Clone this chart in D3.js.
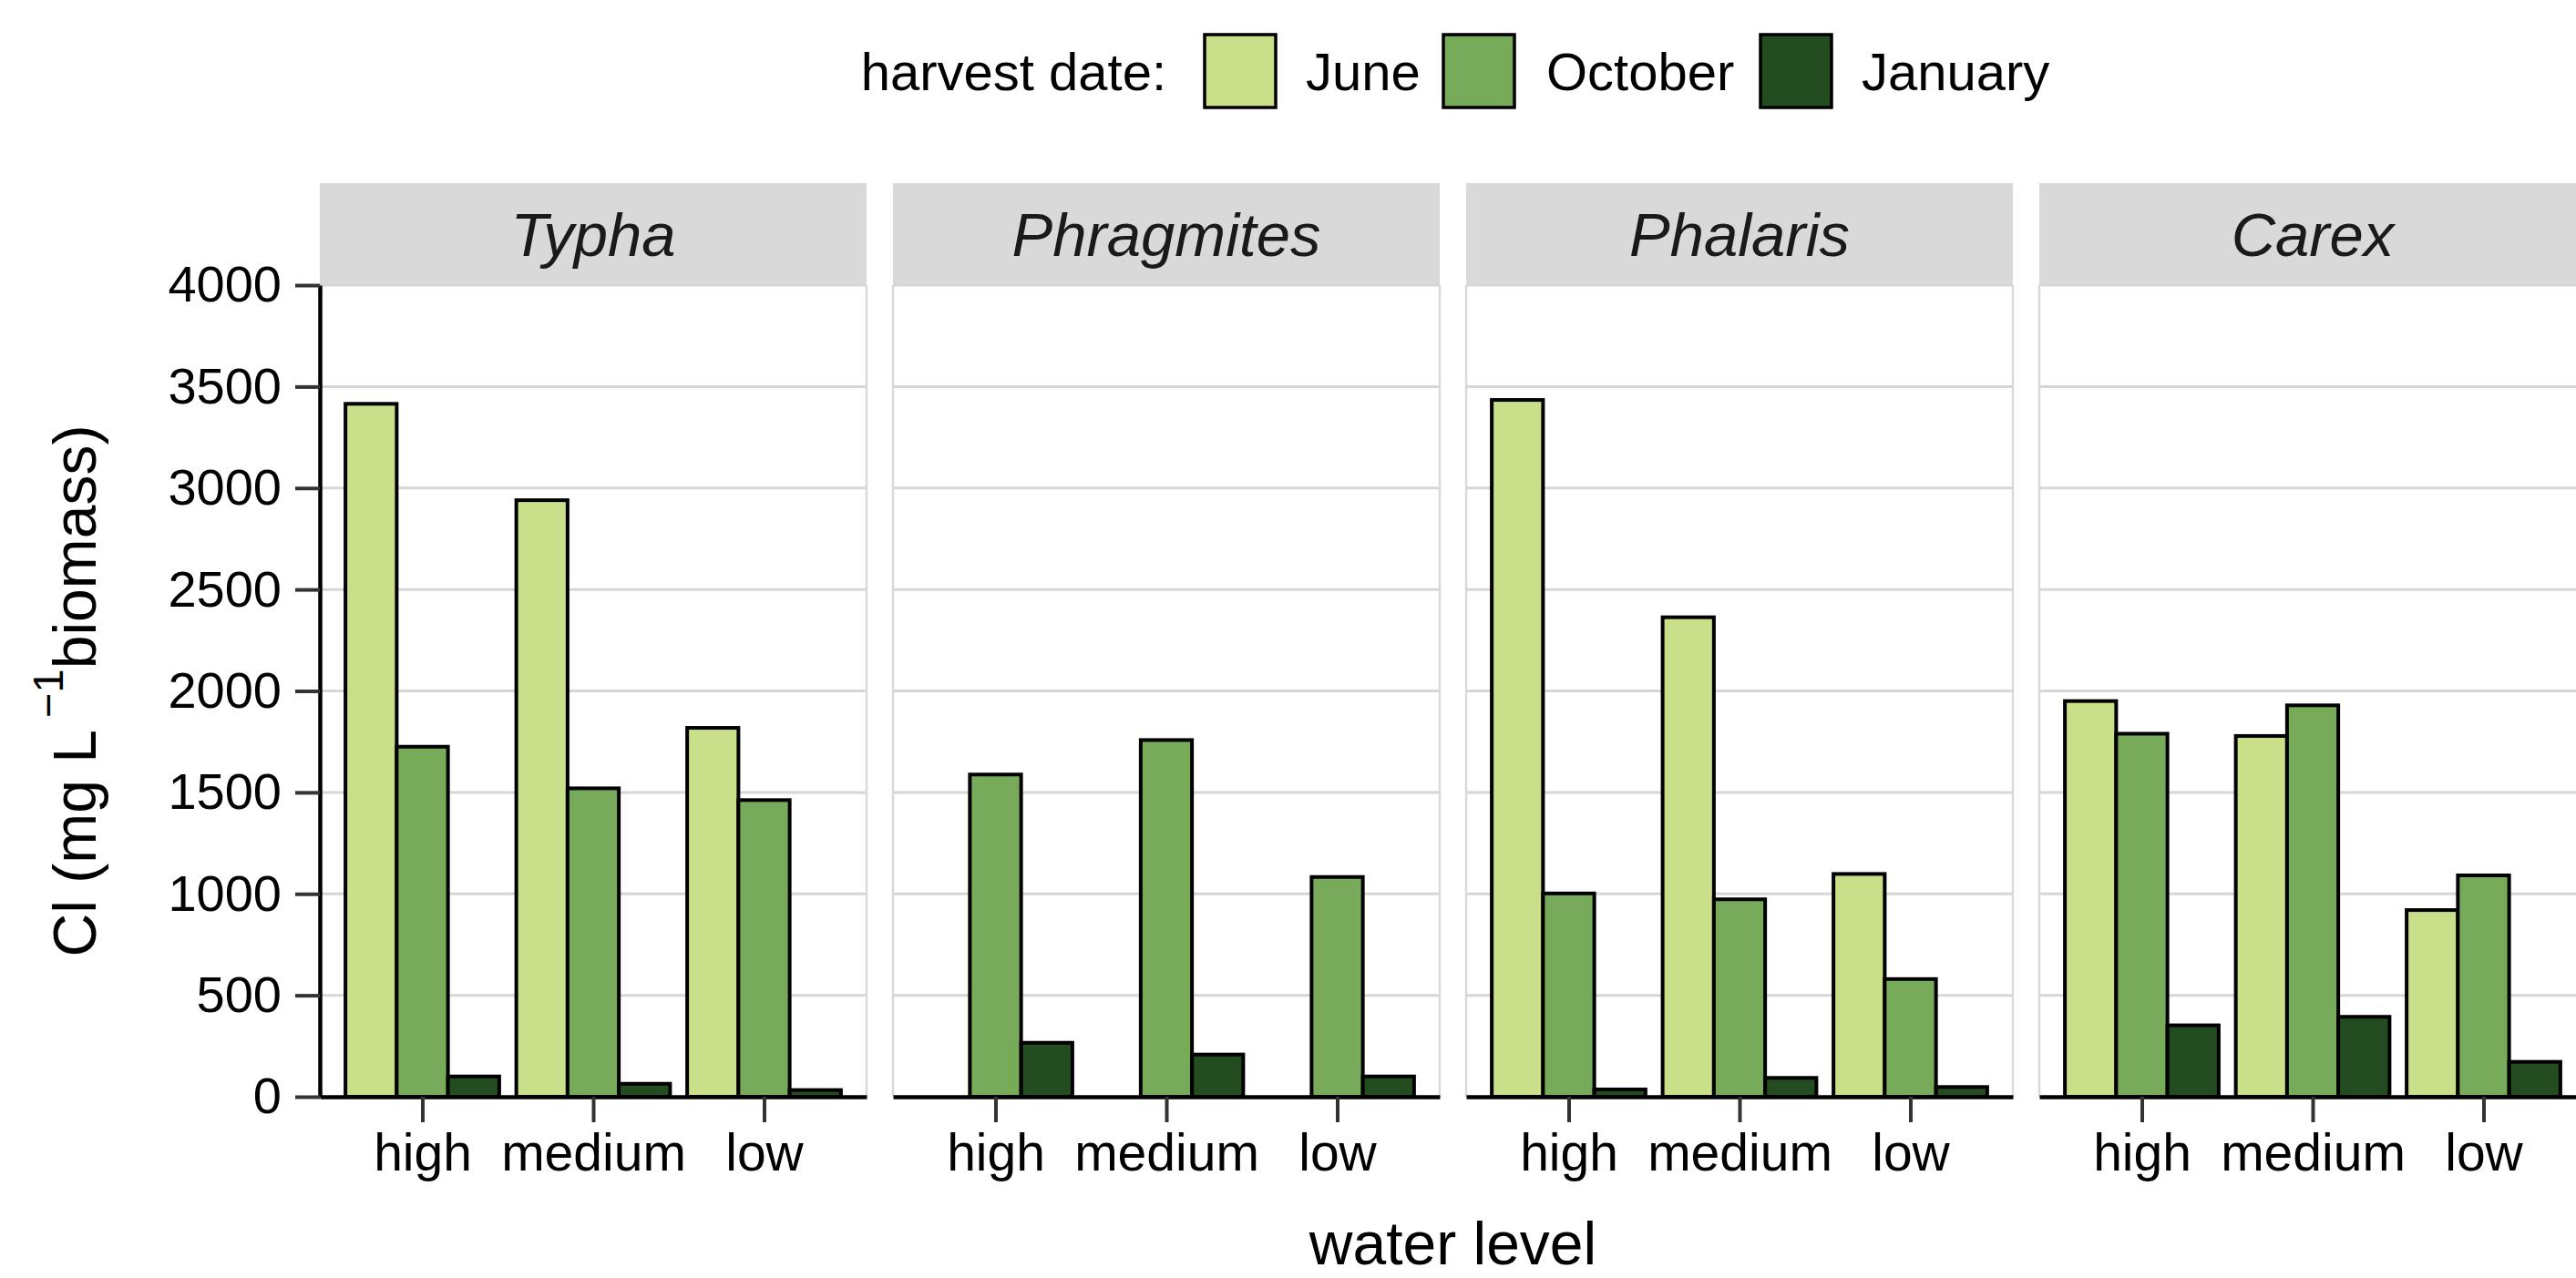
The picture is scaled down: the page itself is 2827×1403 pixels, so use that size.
<!DOCTYPE html>
<html>
<head>
    <style>
        body{
        margin: 0;
        background-color: white;
        }
        text{
          font-family: "Liberation Sans", Arial, Helvetica, sans-serif;
        }
    </style>
    <script src="https://d3js.org/d3.v7.min.js"></script>
</head>
<body>
    <script>
const w = 2827;
const h = 1403;

// data
const species = ["Typha", "Phragmites", "Phalaris", "Carex"];
const levels = ["high", "medium", "low"];
const dates = ["June", "October", "January"];
const colors = ["#c9df8a", "#77ab59", "#234d20"];
// one row per species, values for high, medium, low
const june = [[3415, 2940, 1818], [null, null, null], [3434, 2363, 1098], [1950, 1778, 920]];
const october = [[1725, 1520, 1462], [1588, 1758, 1083], [1002, 973, 580], [1789, 1929, 1091]];
const january = [[100, 64, 33], [266, 208, 100], [36, 93, 48], [352, 394, 172]];
const yTicks = [0, 500, 1000, 1500, 2000, 2500, 3000, 3500, 4000];

const plotTop = 313, plotBottom = 1204, plotLeft = 351;
const panelW = 600, gap = 29;

const svg = d3.select("body")
              .append("svg")
              .attr("width", w)
              .attr("height", h)

const yScale = d3.scaleLinear().domain([0, 4000]).range([plotBottom, plotTop]);
const panelScale = d3.scaleBand().domain(species)
    .range([plotLeft, plotLeft + 4 * panelW + 3 * gap])
    .paddingInner(gap / (panelW + gap)).paddingOuter(0);
const xScale = d3.scalePoint().domain(levels).range([0, panelW]).padding(0.6);
const step = xScale.step();
const dodge = d3.scaleBand().domain(dates).range([-0.45 * step, 0.45 * step]);
const color = d3.scaleOrdinal().domain(dates).range(colors);

const rows = [];
species.forEach((sp, i) => {
  levels.forEach((lv, j) => {
    rows.push({sp: sp, lv: lv, date: "June", v: june[i][j]});
    rows.push({sp: sp, lv: lv, date: "October", v: october[i][j]});
    rows.push({sp: sp, lv: lv, date: "January", v: january[i][j]});
  })
})

species.forEach((sp, i) => {
  const px = panelScale(sp);
  const g = svg.append("g").attr("transform", "translate(" + px + ",0)");

  // strip
  g.append("rect").attr("x", 0).attr("y", 201).attr("width", panelW).attr("height", plotTop - 201)
   .attr("fill", "#d9d9d9");
  g.append("text").attr("x", panelW / 2).attr("y", 281)
   .attr("text-anchor", "middle").attr("font-size", 67).attr("font-style", "italic")
   .attr("fill", "#1a1a1a").text(sp);

  // grid
  g.selectAll(".grid").data(yTicks.slice(1)).enter().append("line")
   .attr("x1", 0).attr("x2", panelW)
   .attr("y1", d => yScale(d)).attr("y2", d => yScale(d))
   .attr("stroke", "#d6d6d6").attr("stroke-width", 3);

  // panel border left and right
  g.append("line").attr("x1", 0).attr("x2", 0).attr("y1", plotTop).attr("y2", plotBottom)
   .attr("stroke", "#d9d9d9").attr("stroke-width", 2.5);
  g.append("line").attr("x1", panelW).attr("x2", panelW).attr("y1", plotTop).attr("y2", plotBottom)
   .attr("stroke", "#d9d9d9").attr("stroke-width", 2.5);

  // bars
  g.selectAll(".bar")
   .data(rows.filter(d => d.sp == sp && d.v != null))
   .enter().append("rect")
   .attr("x", d => xScale(d.lv) + dodge(d.date))
   .attr("y", d => yScale(d.v))
   .attr("width", dodge.bandwidth())
   .attr("height", d => yScale(0) - yScale(d.v))
   .attr("fill", d => color(d.date))
   .attr("stroke", "black")
   .attr("stroke-width", 4);

  // x axis
  const xAxis = d3.axisBottom(xScale).tickSize(28).tickSizeOuter(0).tickPadding(13);
  const ax = g.append("g").attr("transform", "translate(0," + plotBottom + ")").call(xAxis);
  ax.select(".domain").attr("stroke", "black").attr("stroke-width", 4.5);
  ax.selectAll(".tick line").attr("stroke", "#333").attr("stroke-width", 4);
  ax.selectAll(".tick text").attr("font-size", 57).attr("fill", "black")
    .attr("font-family", "Liberation Sans, Arial, sans-serif");
})

// y axis, first panel only
const yAxis = d3.axisLeft(yScale).tickValues(yTicks).tickFormat(d3.format("d"))
    .tickSize(27).tickSizeOuter(0).tickPadding(15);
const ay = svg.append("g").attr("transform", "translate(" + plotLeft + ",0)").call(yAxis);
ay.select(".domain").attr("stroke", "black").attr("stroke-width", 4.5);
ay.selectAll(".tick line").attr("stroke", "#333").attr("stroke-width", 4);
ay.selectAll(".tick text").attr("font-size", 56).attr("fill", "black")
  .attr("font-family", "Liberation Sans, Arial, sans-serif");

// axis titles
svg.append("text")
   .attr("x", plotLeft + (4 * panelW + 3 * gap) / 2).attr("y", 1388)
   .attr("text-anchor", "middle").attr("font-size", 66)
   .text("water level");

const yt = svg.append("text")
   .attr("transform", "translate(105," + ((plotTop + plotBottom) / 2) + ") rotate(-90)")
   .attr("text-anchor", "middle").attr("font-size", 66);
yt.append("tspan").text("Cl (mg L\u2009");
yt.append("tspan").attr("font-size", 47).attr("dy", -36).text("\u22121");
yt.append("tspan").attr("dy", 36).text("biomass)");

// legend
svg.append("text").attr("x", 1280).attr("y", 99).attr("text-anchor", "end")
   .attr("font-size", 58).text("harvest date:");
const keyX = [1322, 1584, 1932];
const labelX = [1433, 1697, 2043];
dates.forEach((d, i) => {
  svg.append("rect").attr("x", keyX[i]).attr("y", 38).attr("width", 78).attr("height", 80)
     .attr("fill", color(d)).attr("stroke", "black").attr("stroke-width", 3.5);
  svg.append("text").attr("x", labelX[i]).attr("y", 99).attr("font-size", 58).text(d);
})
    </script>
</body>
</html>
